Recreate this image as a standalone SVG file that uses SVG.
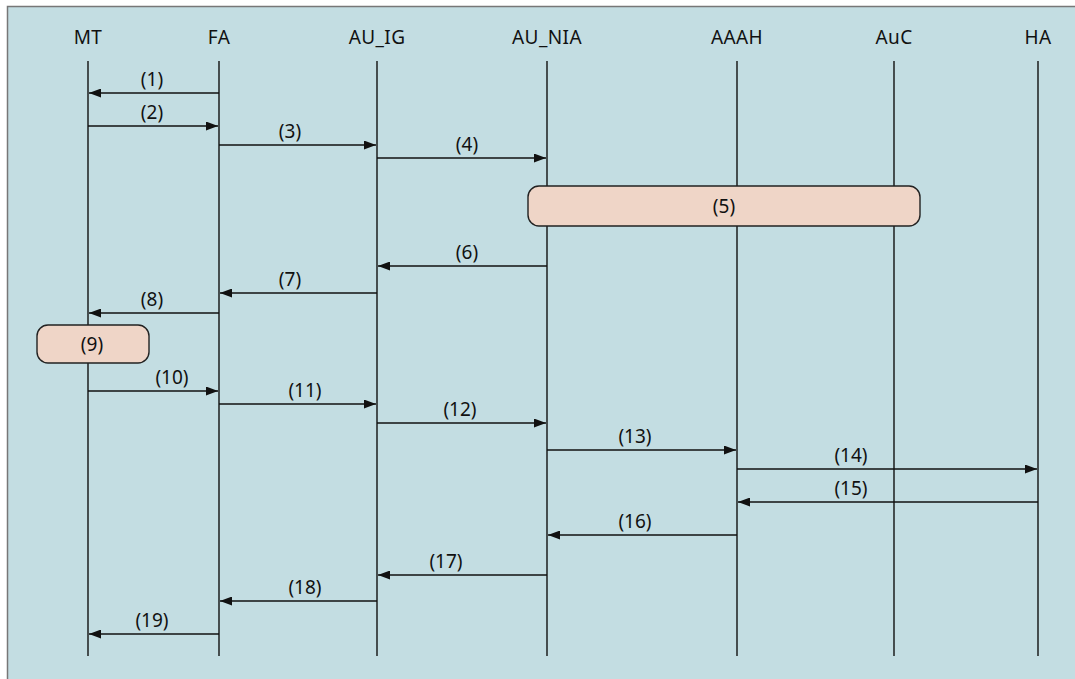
<svg xmlns="http://www.w3.org/2000/svg" width="1075" height="679" viewBox="0 0 1075 679">
<defs>
<marker id="ah" markerWidth="12" markerHeight="9" refX="12" refY="4.5" orient="auto" markerUnits="userSpaceOnUse"><path d="M0,0 L12,4.5 L0,9 Z" fill="#111"/></marker>
<style>
text{font-family:"Noto Sans","Open Sans",sans-serif;font-size:19px;fill:#111;text-anchor:middle}
.hd{letter-spacing:0.4px}
.ll{stroke:#111;stroke-width:1.4}
.msg{stroke:#111;stroke-width:1.4;marker-end:url(#ah)}
.box{fill:#efd5c7;stroke:#222;stroke-width:1.4}
</style>
</defs>
<rect x="7.5" y="6.5" width="1080" height="680" fill="#c3dde2" stroke="#777" stroke-width="1.5"/>
<g id="MT"><text class="hd" x="88" y="44">MT</text><line class="ll" x1="88" y1="61" x2="88" y2="656"/></g>
<g id="FA"><text class="hd" x="219" y="44">FA</text><line class="ll" x1="219" y1="61" x2="219" y2="656"/></g>
<g id="AU_IG"><text class="hd" x="377" y="44">AU_IG</text><line class="ll" x1="377" y1="61" x2="377" y2="656"/></g>
<g id="AU_NIA"><text class="hd" x="547" y="44">AU_NIA</text><line class="ll" x1="547" y1="61" x2="547" y2="656"/></g>
<g id="AAAH"><text class="hd" x="737" y="44">AAAH</text><line class="ll" x1="737" y1="61" x2="737" y2="656"/></g>
<g id="AuC"><text class="hd" x="894" y="44">AuC</text><line class="ll" x1="894" y1="61" x2="894" y2="656"/></g>
<g id="HA"><text class="hd" x="1038" y="44">HA</text><line class="ll" x1="1038" y1="61" x2="1038" y2="656"/></g>
<g id="step5"><rect class="box" x="528" y="186" width="392" height="40" rx="11"/><text x="724" y="213">(5)</text></g>
<g id="step9"><rect class="box" x="37" y="325" width="112" height="38" rx="11"/><text x="92" y="351">(9)</text></g>
<g id="connectors">
<line class="msg" x1="219" y1="93" x2="89" y2="93"/><text x="152" y="86">(1)</text>
<line class="msg" x1="88" y1="126" x2="218" y2="126"/><text x="152" y="119">(2)</text>
<line class="msg" x1="219" y1="145" x2="376" y2="145"/><text x="290" y="138">(3)</text>
<line class="msg" x1="377" y1="158" x2="546" y2="158"/><text x="467" y="151">(4)</text>
<line class="msg" x1="547" y1="266" x2="378" y2="266"/><text x="467" y="259">(6)</text>
<line class="msg" x1="377" y1="293" x2="220" y2="293"/><text x="290" y="286">(7)</text>
<line class="msg" x1="219" y1="313" x2="89" y2="313"/><text x="152" y="306">(8)</text>
<line class="msg" x1="88" y1="391" x2="218" y2="391"/><text x="172" y="384">(10)</text>
<line class="msg" x1="219" y1="404" x2="376" y2="404"/><text x="305" y="397">(11)</text>
<line class="msg" x1="377" y1="423" x2="546" y2="423"/><text x="460" y="416">(12)</text>
<line class="msg" x1="547" y1="450" x2="736" y2="450"/><text x="635" y="443">(13)</text>
<line class="msg" x1="737" y1="469" x2="1037" y2="469"/><text x="851" y="462">(14)</text>
<line class="msg" x1="1038" y1="502" x2="738" y2="502"/><text x="851" y="495">(15)</text>
<line class="msg" x1="737" y1="535" x2="548" y2="535"/><text x="635" y="528">(16)</text>
<line class="msg" x1="547" y1="575" x2="378" y2="575"/><text x="446" y="568">(17)</text>
<line class="msg" x1="377" y1="601" x2="220" y2="601"/><text x="305" y="594">(18)</text>
<line class="msg" x1="219" y1="634" x2="89" y2="634"/><text x="152" y="627">(19)</text>
</g>
</svg>
